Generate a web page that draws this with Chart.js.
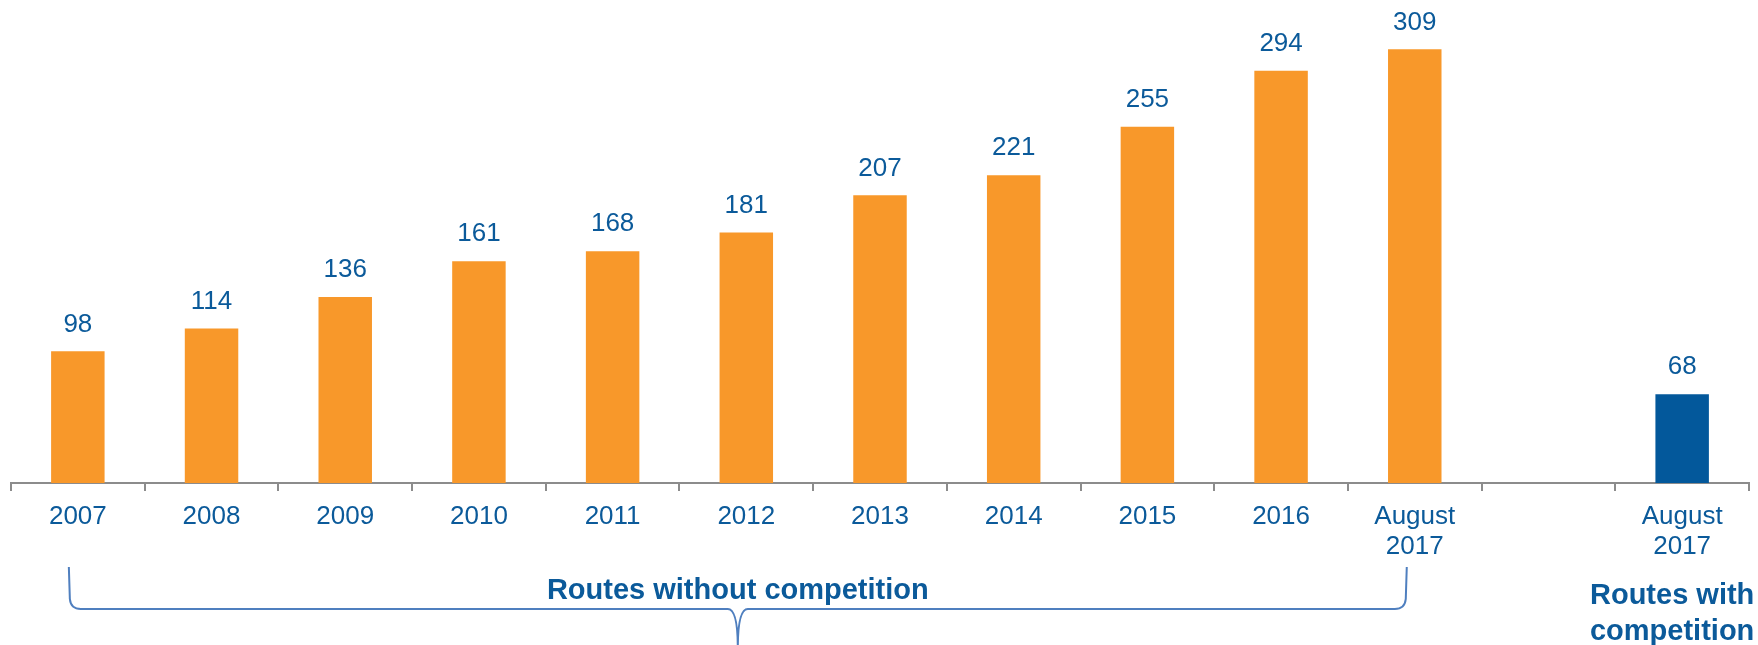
<!DOCTYPE html>
<html>
<head>
<meta charset="utf-8">
<script src="https://cdn.jsdelivr.net/npm/chart.js@4/dist/chart.umd.min.js"></script>
<style>
  html, body { margin: 0; padding: 0; background: #fff; }
  #wrap { width: 1758px; height: 645px; position: relative; }
</style>
</head>
<body>
<div id="wrap"><canvas id="routesChart"></canvas></div>
<script>
const categories = ["2007", "2008", "2009", "2010", "2011", "2012", "2013", "2014", "2015", "2016", ["August", "2017"], "", ["August", "2017"]];
const withoutCompetition = [98, 114, 136, 161, 168, 181, 207, 221, 255, 294, 309, null, null];
const withCompetition = [null, null, null, null, null, null, null, null, null, null, null, null, 68];
const groupLabels = ["Routes without competition", ["Routes with", "competition"]];

const FONT = "'Liberation Sans', Arial, sans-serif";
const TEXT_BLUE = "#0b5a9a";

const annotations = {
  id: "annotations",
  afterDatasetsDraw(chart) {
    const ctx = chart.ctx;
    ctx.save();
    ctx.fillStyle = TEXT_BLUE;
    ctx.font = "26px " + FONT;
    ctx.textAlign = "center";
    ctx.textBaseline = "middle";
    chart.data.datasets.forEach((ds, i) => {
      chart.getDatasetMeta(i).data.forEach((bar, j) => {
        const v = ds.data[j];
        if (v == null) return;
        ctx.fillText(String(v), bar.x, bar.y - 27);
      });
    });
    ctx.restore();
  },
  afterDraw(chart) {
    const ctx = chart.ctx;
    const x = chart.scales.x;
    const x0 = x.getPixelForValue(0) - 9;
    const x1 = x.getPixelForValue(10) - 8;
    const mid = (x0 + x1) / 2;
    const top = 567, line = 609, tip = 648, r = 10;

    ctx.save();
    ctx.strokeStyle = "#4f7fbf";
    ctx.lineWidth = 2;
    ctx.beginPath();
    ctx.moveTo(x0, top);
    ctx.lineTo(x0 + 1, line - r);
    ctx.quadraticCurveTo(x0 + 2, line, x0 + r + 2, line);
    ctx.lineTo(mid - 10, line);
    ctx.quadraticCurveTo(mid, line, mid, tip);
    ctx.quadraticCurveTo(mid, line, mid + 10, line);
    ctx.lineTo(x1 - r - 2, line);
    ctx.quadraticCurveTo(x1 - 2, line, x1 - 1, line - r);
    ctx.lineTo(x1, top);
    ctx.stroke();

    ctx.fillStyle = TEXT_BLUE;
    ctx.font = "bold 29px " + FONT;
    ctx.textAlign = "center";
    ctx.textBaseline = "middle";
    ctx.fillText(groupLabels[0], mid, 591);
    const cx = x.getPixelForValue(12) - 10;
    ctx.fillText(groupLabels[1][0], cx, 596);
    ctx.fillText(groupLabels[1][1], cx, 632);
    ctx.restore();
  }
};

new Chart(document.getElementById("routesChart"), {
  type: "bar",
  data: {
    labels: categories,
    datasets: [
      {
        label: "Routes without competition",
        data: withoutCompetition,
        backgroundColor: "#f8982a",
        grouped: false,
        clip: 0,
        categoryPercentage: 1,
        barPercentage: 0.4,
      },
      {
        label: "Routes with competition",
        data: withCompetition,
        backgroundColor: "#03589b",
        grouped: false,
        clip: 0,
        categoryPercentage: 1,
        barPercentage: 0.4,
      },
    ],
  },
  options: {
    responsive: true,
    maintainAspectRatio: false,
    animation: false,
    layout: { padding: { top: 0, left: 11, right: 9, bottom: 87 } },
    plugins: {
      legend: { display: false },
      tooltip: { enabled: false },
    },
    scales: {
      x: {
        afterFit(scale) { scale.height = 75; },
        border: { color: "#8c8c8c", width: 2 },
        grid: {
          offset: true,
          drawOnChartArea: false,
          drawTicks: true,
          tickLength: 8,
          color: "#8c8c8c",
          lineWidth: 2,
        },
        ticks: {
          color: TEXT_BLUE,
          padding: 11,
          maxRotation: 0,
          autoSkip: false,
          font: { family: FONT, size: 26, lineHeight: 1.154 },
        },
      },
      y: {
        display: false,
        min: 6,
        max: 343.5,
      },
    },
  },
  plugins: [annotations],
});
</script>
</body>
</html>
